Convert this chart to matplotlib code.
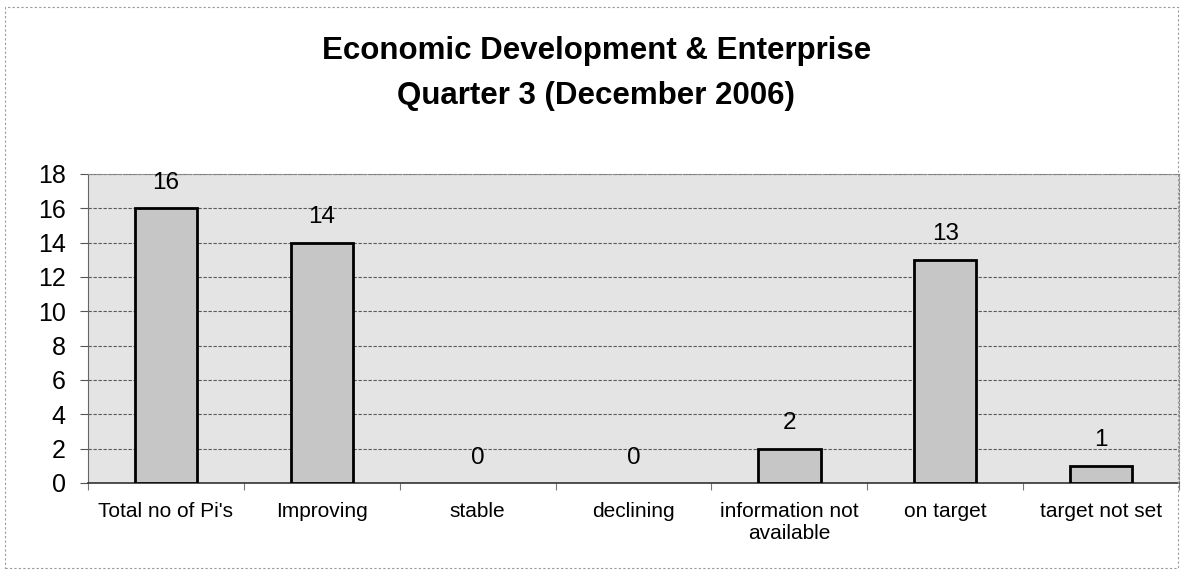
import matplotlib
matplotlib.use("Agg")
import matplotlib.pyplot as plt
from matplotlib.patches import Rectangle

categories = ["Total no of Pi's", "Improving", "stable", "declining",
              "information not\navailable", "on target", "target not set"]
values = [16, 14, 0, 0, 2, 13, 1]
y_ticks = [0, 2, 4, 6, 8, 10, 12, 14, 16, 18]
title_lines = ["Economic Development & Enterprise", "Quarter 3 (December 2006)"]

plt.rcParams["font.family"] = ["Liberation Sans", "DejaVu Sans"]

fig = plt.figure(figsize=(11.83, 5.75), dpi=100)
fig.patch.set_facecolor("white")
# faint dashed frame around the chart
fig.add_artist(Rectangle((0.004, 0.012), 0.992, 0.975, transform=fig.transFigure,
                         fill=False, ec="#9a9a9a", lw=0.8, ls=(0, (2, 2))))

ax = fig.add_axes([0.0744, 0.16, 0.9222, 0.5374])
ax.set_facecolor("#e4e4e4")

x = list(range(len(categories)))
bars = ax.bar(x, values, width=0.4, color="#c6c6c6", edgecolor="black", linewidth=2, zorder=3)
# empty categories show no outline
for b, v in zip(bars, values):
    if v == 0:
        b.set_linewidth(0)

for xi, v in zip(x, values):
    ax.annotate(str(v), (xi, v), xytext=(0, 14), textcoords="offset points",
                ha="center", va="baseline", fontsize=17.5, zorder=4,
                annotation_clip=False)

ax.set_xlim(-0.5, len(categories) - 0.5)
ax.set_ylim(0, 18)
ax.set_yticks(y_ticks)
ax.tick_params(axis="y", labelsize=18, length=6, width=0.8, color="#555555", pad=10)
ax.yaxis.grid(True, color="#5a5a5a", lw=0.8, ls=(0, (3, 1.5)), zorder=1)

ax.set_xticks(x)
ax.set_xticklabels(categories, fontsize=15, linespacing=1.2)
ax.tick_params(axis="x", length=0, pad=14)
# separator ticks between categories
ax.set_xticks([i - 0.5 for i in range(len(categories) + 1)], minor=True)
ax.tick_params(axis="x", which="minor", length=5, width=0.8, color="#777777")

for side in ["top", "right"]:
    ax.spines[side].set_color("#8a8a8a")
    ax.spines[side].set_linewidth(0.8)
    ax.spines[side].set_linestyle((0, (2, 1.5)))
ax.spines["left"].set_color("#666666")
ax.spines["left"].set_linewidth(0.8)
ax.spines["bottom"].set_color("#333333")
ax.spines["bottom"].set_linewidth(1.2)

for line, yb in zip(title_lines, [0.8974, 0.8191]):
    fig.text(0.504, yb, line, ha="center", va="baseline", fontsize=22.5,
             fontweight="bold")

fig.savefig("out.png", dpi=100)
